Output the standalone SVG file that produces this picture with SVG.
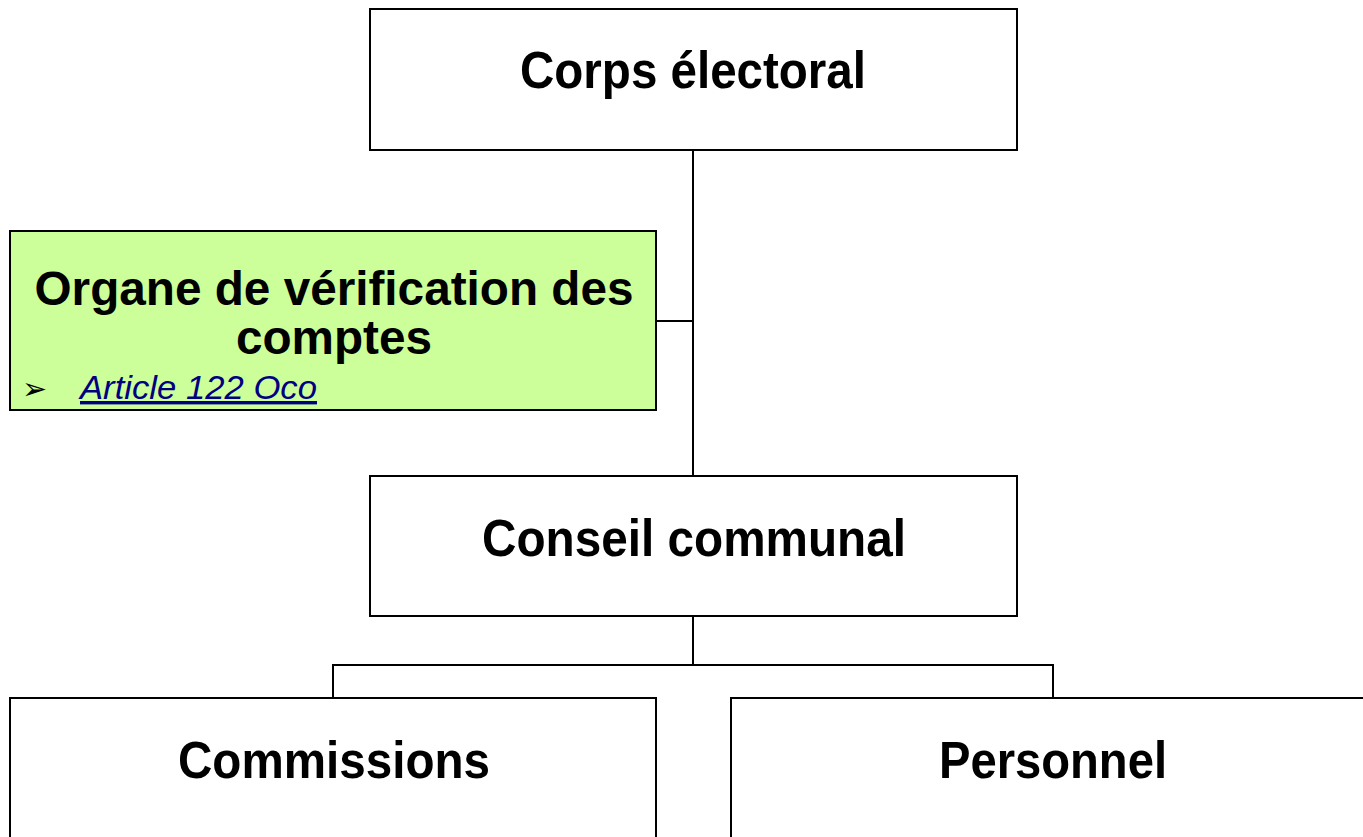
<svg xmlns="http://www.w3.org/2000/svg" width="1363" height="837" viewBox="0 0 1363 837">
<style>
.box{fill:#ffffff;stroke:#000000;stroke-width:2}
.green{fill:#ccff99;stroke:#000000;stroke-width:2}
.t{font-family:"Liberation Sans",Arial,sans-serif;font-weight:bold;font-size:52px;fill:#000000;text-anchor:middle}
.t2{font-family:"Liberation Sans",Arial,sans-serif;font-weight:bold;font-size:48px;fill:#000000;text-anchor:middle}
.link{font-family:"Liberation Sans",Arial,sans-serif;font-style:italic;font-size:34px;fill:#000080;text-decoration:underline}
.conn{fill:none;stroke:#000000;stroke-width:2}
</style>
<rect width="1363" height="837" fill="#ffffff"/>
<g id="connectors">
<path class="conn" d="M693,150 V476"/>
<path class="conn" d="M656,321 H693"/>
<path class="conn" d="M693,616 V665"/>
<path class="conn" d="M333,698 V665 H1053 V698"/>
</g>
<g id="corps">
<rect class="box" x="370" y="9" width="647" height="141"/>
<text class="t" x="693" y="88" textLength="346" lengthAdjust="spacingAndGlyphs">Corps électoral</text>
</g>
<g id="organe">
<rect class="green" x="10" y="231" width="646" height="179"/>
<text class="t2" x="334" y="305" textLength="599" lengthAdjust="spacingAndGlyphs">Organe de vérification des</text>
<text class="t2" x="334" y="354" textLength="196" lengthAdjust="spacingAndGlyphs">comptes</text>
<text x="22" y="399" font-family="DejaVu Sans,sans-serif" font-size="30" fill="#000000">➢</text>
<text class="link" x="80" y="399" textLength="237" lengthAdjust="spacingAndGlyphs">Article 122 Oco</text>
</g>
<g id="conseil">
<rect class="box" x="370" y="476" width="647" height="140"/>
<text class="t" x="694" y="556" textLength="424" lengthAdjust="spacingAndGlyphs">Conseil communal</text>
</g>
<g id="commissions">
<rect class="box" x="10" y="698" width="646" height="160"/>
<text class="t" x="334" y="778" textLength="312" lengthAdjust="spacingAndGlyphs">Commissions</text>
</g>
<g id="personnel">
<rect class="box" x="731" y="698" width="660" height="160"/>
<text class="t" x="1053" y="778" textLength="228" lengthAdjust="spacingAndGlyphs">Personnel</text>
</g>
</svg>
